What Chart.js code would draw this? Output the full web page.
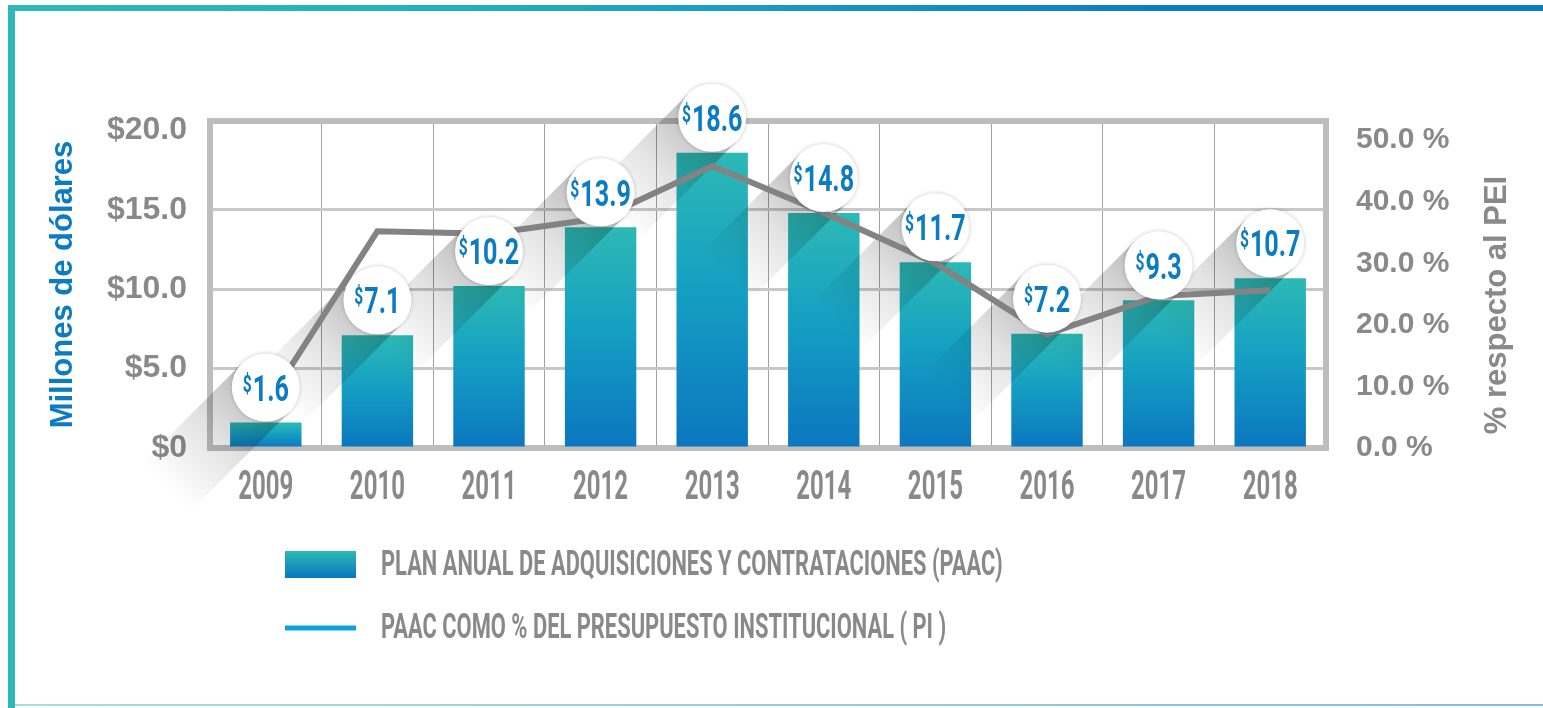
<!DOCTYPE html>
<html>
<head>
<meta charset="utf-8">
<script src="https://cdn.jsdelivr.net/npm/chart.js@4.4.1/dist/chart.umd.min.js"></script>
<style>
  html, body { margin: 0; padding: 0; background: #fff; }
  #wrap { width: 1543px; height: 708px; }
</style>
</head>
<body>
<div id="wrap"><canvas id="chart" width="1543" height="708"></canvas></div>
<script>
// data
const years = ["2009", "2010", "2011", "2012", "2013", "2014", "2015", "2016", "2017", "2018"];
const paacMillions = [1.6, 7.1, 10.2, 13.9, 18.6, 14.8, 11.7, 7.2, 9.3, 10.7];
const paacPercent = [6.9, 35.2, 34.8, 37.3, 45.8, 38.2, 30.0, 18.5, 24.7, 25.6];
const dollarTicks = [0, 5, 10, 15, 20];
const percentTicks = [0, 10, 20, 30, 40, 50];

const barLabel = "Plan anual de adquisiciones y contrataciones (PAAC)";
const lineLabel = "PAAC como % del presupuesto institucional ( PI )";
const leftTitle = "Millones de dólares";
const rightTitle = "% respecto al PEI";

const GRAY = "#898989";
const BLUE = "#0b7cc3";
const SANS = '"Liberation Sans", Arial, sans-serif';

function barGradient(ctx) {
  const chart = ctx.chart;
  if (!chart.chartArea || ctx.type !== "data") return "#1aa0c4";
  const y = chart.scales.y;
  const top = y.getPixelForValue(ctx.raw);
  const bottom = y.getPixelForValue(0);
  const g = chart.ctx.createLinearGradient(0, top, 0, bottom);
  g.addColorStop(0, "#2db9b4");
  g.addColorStop(0.45, "#15a0c3");
  g.addColorStop(1, "#0b76bf");
  return g;
}

// draws text squeezed horizontally, like the condensed face of the original
function drawCondensed(c, text, x, y, font, sx, color, align) {
  c.save();
  c.font = font;
  c.fillStyle = color;
  c.textBaseline = "middle";
  c.textAlign = "left";
  const w = c.measureText(text).width * sx;
  const left = align === "center" ? x - w / 2 : x;
  c.translate(left, y);
  c.scale(sx, 1);
  c.fillText(text, 0, 0);
  c.restore();
  return w;
}

const BUBBLE_R = 34;
const BUBBLE_LIFT = 35;

const framePlugin = {
  id: "frame",
  beforeDraw(chart) {
    const c = chart.ctx;
    c.save();
    const g = c.createLinearGradient(8, 0, 1543, 0);
    g.addColorStop(0, "#2fb9b8");
    g.addColorStop(0.3, "#22b0bf");
    g.addColorStop(0.75, "#0b7ec2");
    g.addColorStop(1, "#0b7cc1");
    c.fillStyle = g;
    c.fillRect(8, 5, 1535, 6);
    c.fillStyle = "#2db7b7";
    c.fillRect(8, 5, 7, 703);
    const b = c.createLinearGradient(15, 0, 1543, 0);
    b.addColorStop(0, "#a6dedc");
    b.addColorStop(1, "#82bedf");
    c.fillStyle = b;
    c.fillRect(15, 704, 1528, 2);
    c.restore();
  },
  beforeDatasetsDraw(chart) {
    const c = chart.ctx;
    const { left, top, right, bottom } = chart.chartArea;
    c.save();
    c.strokeStyle = "#bdbdbd";
    c.lineWidth = 6;
    c.strokeRect(left, top, right - left, bottom - top);
    c.restore();
  },
  beforeDatasetDraw(chart, args) {
    // long diagonal shadows behind the value bubbles, under the line
    if (args.index !== 1) return;
    const c = chart.ctx;
    const k = Math.SQRT1_2;
    const r = BUBBLE_R;
    const L = 140;
    chart.getDatasetMeta(0).data.forEach((el) => {
      const cx = el.x;
      const cy = el.y - BUBBLE_LIFT;
      const g = c.createLinearGradient(cx, cy, cx - L * k, cy + L * k);
      g.addColorStop(0, "rgba(0,0,0,0.28)");
      g.addColorStop(0.5, "rgba(0,0,0,0.11)");
      g.addColorStop(1, "rgba(0,0,0,0)");
      c.save();
      c.fillStyle = g;
      c.beginPath();
      c.moveTo(cx - r * k, cy - r * k);
      c.lineTo(cx + r * k, cy + r * k);
      c.lineTo(cx + r * k - L * k, cy + r * k + L * k);
      c.lineTo(cx - r * k - L * k, cy - r * k + L * k);
      c.closePath();
      c.fill();
      c.restore();
    });
  },
  afterDatasetsDraw(chart) {
    const c = chart.ctx;
    const SX = 0.68;
    chart.getDatasetMeta(0).data.forEach((el, i) => {
      const cx = el.x;
      const cy = el.y - BUBBLE_LIFT;
      c.save();
      c.shadowColor = "rgba(0,0,0,0.22)";
      c.shadowBlur = 4;
      c.fillStyle = "#ffffff";
      c.beginPath();
      c.arc(cx, cy, BUBBLE_R, 0, Math.PI * 2);
      c.fill();
      c.restore();

      const num = paacMillions[i].toFixed(1);
      c.save();
      c.fillStyle = BLUE;
      c.textBaseline = "alphabetic";
      c.font = "bold 37px Roboto";
      const nw = c.measureText(num).width * SX;
      c.font = "bold 23px Roboto";
      const dw = c.measureText("$").width * SX;
      const total = dw + 1 + nw;
      const x0 = cx - total / 2;
      const cap = 37 * 0.711;
      const base = cy + cap / 2;
      c.save();
      c.translate(x0, base - cap + 23 * 0.711 + 1);
      c.scale(SX, 1);
      c.fillText("$", 0, 0);
      c.restore();
      c.save();
      c.font = "bold 37px Roboto";
      c.translate(x0 + dw + 1, base);
      c.scale(SX, 1);
      c.fillText(num, 0, 0);
      c.restore();
      c.restore();
    });
  },
  afterDraw(chart) {
    const c = chart.ctx;
    // category labels under the plot, in a condensed face
    const xs = chart.scales.x;
    chart.data.labels.forEach((lab, i) => {
      drawCondensed(c, lab, xs.getPixelForValue(i), 489, "bold 40px Roboto", 0.6, GRAY, "center");
    });

    // right axis title, reading bottom to top
    c.save();
    c.translate(1497, 305);
    c.rotate(-Math.PI / 2);
    c.font = "bold 31px " + SANS;
    c.fillStyle = GRAY;
    c.textAlign = "center";
    c.textBaseline = "middle";
    c.fillText(rightTitle, 0, 0);
    c.restore();

    // legend
    const rows = [565, 628];
    chart.data.datasets.forEach((ds, i) => {
      const y = rows[i];
      c.save();
      if (ds.type === "line") {
        c.fillStyle = "#0aa2e2";
        c.fillRect(285, y - 2.5, 71, 5);
      } else {
        const g = c.createLinearGradient(0, y - 14, 0, y + 13);
        g.addColorStop(0, "#2db9b4");
        g.addColorStop(1, "#0b74bf");
        c.fillStyle = g;
        c.fillRect(285, y - 14, 71, 27);
      }
      c.restore();
      drawCondensed(c, ds.label.toUpperCase(), 381, y + 1, "bold 35px Roboto", 0.625, GRAY, "left");
    });
  }
};

new Chart(document.getElementById("chart"), {
  type: "bar",
  data: {
    labels: years,
    datasets: [
      {
        label: barLabel,
        data: paacMillions,
        yAxisID: "y",
        backgroundColor: barGradient,
        barPercentage: 0.64,
        categoryPercentage: 1,
        order: 2,
      },
      {
        type: "line",
        label: lineLabel,
        data: paacPercent,
        yAxisID: "y1",
        borderColor: "#838383",
        borderWidth: 6,
        pointRadius: 0,
        tension: 0,
        order: 1,
      },
    ],
  },
  options: {
    responsive: false,
    animation: false,
    devicePixelRatio: 1,
    layout: {
      autoPadding: false,
      padding: { left: 45, top: 121, right: 0, bottom: 0 },
    },
    plugins: {
      legend: { display: false },
      tooltip: { enabled: false },
    },
    scales: {
      x: {
        grid: { offset: true, color: "#a0a0a0", lineWidth: 1, drawTicks: false },
        border: { display: false },
        ticks: { display: false },
        afterFit(scale) {
          scale.height = 260;
        },
      },
      y: {
        position: "left",
        min: 0,
        max: 20.6,
        afterBuildTicks(scale) {
          scale.ticks = dollarTicks.map((v) => ({ value: v }));
        },
        grid: {
          color: (ctx) => (ctx.tick && (ctx.tick.value === 0 || ctx.tick.value === 20) ? "rgba(0,0,0,0)" : "#c8c8c8"),
          lineWidth: 3,
          drawTicks: false,
        },
        border: { display: false },
        ticks: {
          color: GRAY,
          padding: 23,
          font: { family: SANS, size: 32, weight: "bold" },
          callback: (v) => (v === 0 ? "$0" : "$" + Number(v).toFixed(1)),
        },
        title: {
          display: true,
          text: leftTitle,
          color: BLUE,
          padding: 0,
          font: { family: SANS, size: 31, weight: "bold" },
        },
        afterFit(scale) {
          scale.width = 165;
        },
      },
      y1: {
        position: "right",
        min: 0,
        max: 53.1,
        afterBuildTicks(scale) {
          scale.ticks = percentTicks.map((v) => ({ value: v }));
        },
        grid: { display: false },
        border: { display: false },
        ticks: {
          color: GRAY,
          padding: 22,
          font: { family: SANS, size: 30, weight: "bold" },
          callback: (v) => Number(v).toFixed(1) + " %",
        },
        afterFit(scale) {
          scale.width = 217;
        },
      },
    },
  },
  plugins: [framePlugin],
});
</script>
</body>
</html>
